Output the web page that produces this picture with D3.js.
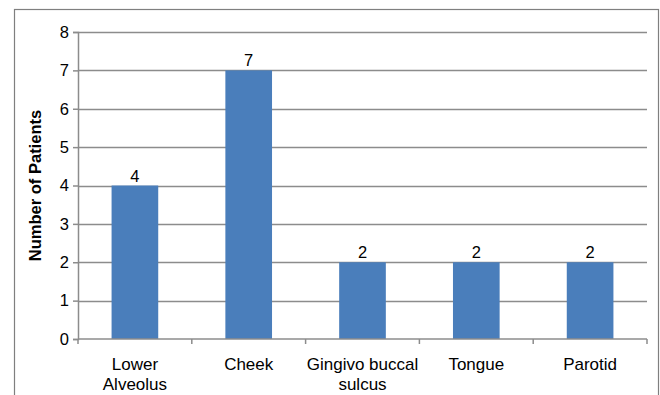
<!DOCTYPE html>
<html lang="en">
<head>
    <meta charset="UTF-8">
    <title>Number of Patients by Site</title>
    <script src="https://d3js.org/d3.v7.min.js"></script>
    <style>
        body { margin: 0; background: #ffffff; }
        text { font-family: Arial, "Liberation Sans", sans-serif; fill: #000; }
    </style>
</head>
<body>
    <div id="chart"></div>

    <script>
        // chart data
        const sites = ["Lower Alveolus", "Cheek", "Gingivo buccal sulcus", "Tongue", "Parotid"];
        const siteLines = [["Lower", "Alveolus"], ["Cheek"], ["Gingivo buccal", "sulcus"], ["Tongue"], ["Parotid"]];
        const patients = [4, 7, 2, 2, 2];
        const yTicks = [0, 1, 2, 3, 4, 5, 6, 7, 8];

        const width = 660;
        const height = 395;
        const margin = { top: 32, right: 13, bottom: 56, left: 78 };

        const svg = d3.select("#chart")
            .append("svg")
            .attr("width", width)
            .attr("height", height);

        // outer frame (bottom edge runs off the picture)
        svg.append("rect")
            .attr("x", 14.5)
            .attr("y", 9.5)
            .attr("width", 644)
            .attr("height", 420)
            .attr("fill", "none")
            .attr("stroke", "#7f7f7f")
            .attr("stroke-width", 1.2);

        const x = d3.scaleBand()
            .domain(sites)
            .range([margin.left, width - margin.right])
            .paddingInner(0.59)
            .paddingOuter(0.295);

        const y = d3.scaleLinear()
            .domain([0, 8])
            .range([height - margin.bottom, margin.top]);

        // gridlines
        svg.append("g")
            .selectAll("line")
            .data(yTicks.filter(d => d > 0))
            .join("line")
            .attr("x1", margin.left)
            .attr("x2", width - margin.right)
            .attr("y1", d => Math.round(y(d)) + 0.5)
            .attr("y2", d => Math.round(y(d)) + 0.5)
            .attr("stroke", "#8c8c8c")
            .attr("stroke-width", 1.5);

        // y axis
        const yAxis = svg.append("g")
            .attr("transform", `translate(${margin.left},0)`)
            .call(d3.axisLeft(y).tickValues(yTicks).tickFormat(d3.format("d")).tickSize(5).tickPadding(4));
        yAxis.select(".domain").attr("stroke", "#8c8c8c").attr("stroke-width", 1.5);
        yAxis.selectAll(".tick line").attr("stroke", "#8c8c8c").attr("stroke-width", 1.5);
        yAxis.selectAll(".tick text").attr("font-size", 16.5).attr("font-family", "Arial, 'Liberation Sans', sans-serif").attr("fill", "#000");

        // bars
        svg.append("g")
            .selectAll("rect")
            .data(patients)
            .join("rect")
            .attr("x", (d, i) => x(sites[i]))
            .attr("y", d => y(d))
            .attr("width", x.bandwidth())
            .attr("height", d => y(0) - y(d))
            .attr("fill", "#4a7ebb");

        // value labels
        svg.append("g")
            .selectAll("text")
            .data(patients)
            .join("text")
            .attr("x", (d, i) => x(sites[i]) + x.bandwidth() / 2)
            .attr("y", d => y(d) - 4)
            .attr("text-anchor", "middle")
            .attr("font-size", 16.5)
            .text(d => d);

        // x axis line + category separators
        const xLeft = margin.left, xRight = width - margin.right;
        const step = x.step();
        svg.append("line")
            .attr("x1", xLeft)
            .attr("x2", xRight)
            .attr("y1", y(0))
            .attr("y2", y(0))
            .attr("stroke", "#8c8c8c")
            .attr("stroke-width", 1.5);
        svg.append("g")
            .selectAll("line")
            .data(d3.range(sites.length + 1))
            .join("line")
            .attr("x1", i => xLeft + i * step)
            .attr("x2", i => xLeft + i * step)
            .attr("y1", y(0))
            .attr("y2", y(0) + 5)
            .attr("stroke", "#8c8c8c")
            .attr("stroke-width", 1.5);

        // category labels
        const labels = svg.append("g")
            .selectAll("text")
            .data(sites)
            .join("text")
            .attr("x", d => x(d) + x.bandwidth() / 2)
            .attr("y", y(0) + 31)
            .attr("text-anchor", "middle")
            .attr("font-size", 17);
        labels.each(function(d, i) {
            d3.select(this).selectAll("tspan")
                .data(siteLines[i])
                .join("tspan")
                .attr("x", x(d) + x.bandwidth() / 2)
                .attr("dy", (t, j) => j === 0 ? 0 : 20)
                .text(t => t);
        });

        // y axis title
        svg.append("text")
            .attr("transform", `translate(41,${(y(0) + y(8)) / 2}) rotate(-90)`)
            .attr("text-anchor", "middle")
            .attr("font-size", 16.5)
            .attr("font-weight", "bold")
            .text("Number of Patients");
    </script>
</body>
</html>
